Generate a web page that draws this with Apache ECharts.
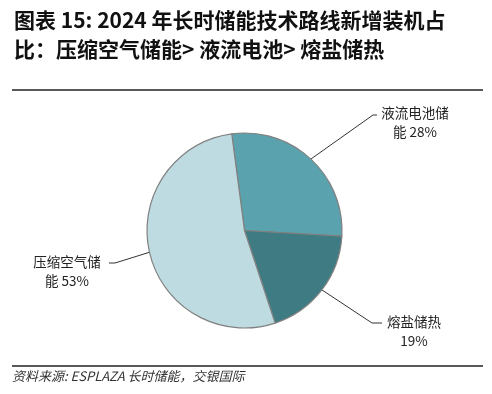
<!DOCTYPE html>
<html><head><meta charset="utf-8">
<script src="https://cdn.jsdelivr.net/npm/echarts@6/dist/echarts.min.js"></script>
<style>html,body{margin:0;padding:0;background:#fff}#c{width:492px;height:394px}</style>
</head><body><div id="c"></div>
<script>
const categories = ['液流电池储能', '熔盐储热', '压缩空气储能'];
const shares = [28, 19, 53];
const colors = ['#5AA2AE', '#3F7B83', '#BDDBE1'];
const titleText = '图表 15: 2024 年长时储能技术路线新增装机占\n比：压缩空气储能> 液流电池> 熔盐储热';
const sourceText = '资料来源: ESPLAZA 长时储能，交银国际';

const FONT = '"Noto Sans CJK SC", "Noto Sans", sans-serif';
// label anchor layout: [textCenterX, textCenterY, elbowX, elbowY, endX]
const labelSpots = [
  [415, 122, 373, 115, 377],
  [414, 331, 372, 323, 382],
  [67, 271, 115, 263, 109]
];

const chart = echarts.init(document.getElementById('c'), null, {renderer: 'canvas'});
chart.setOption({
  animation: false,
  title: {
    text: titleText,
    left: 14, top: 6, padding: 0,
    textStyle: {fontFamily: FONT, fontSize: 21, fontWeight: 'bold', color: '#111', lineHeight: 29}
  },
  graphic: [
    {type: 'line', shape: {x1: 12, y1: 90, x2: 483, y2: 90}, style: {stroke: '#222', lineWidth: 1.5}},
    {type: 'line', shape: {x1: 12, y1: 366, x2: 483, y2: 366}, style: {stroke: '#222', lineWidth: 1.5}},
    {type: 'text', left: 12, top: 370, style: {text: sourceText, font: 'italic 13px ' + FONT, fill: '#333'}}
  ],
  series: [{
    type: 'pie',
    center: [244.5, 230.5],
    radius: 97.5,
    startAngle: 97.5,
    clockwise: true,
    silent: true,
    itemStyle: {borderColor: '#808080', borderWidth: 1.2},
    data: categories.map((n, i) => ({name: n, value: shares[i], itemStyle: {color: colors[i]}})),
    label: {
      show: true,
      position: 'outside',
      fontFamily: FONT, fontSize: 13.5, color: '#222', lineHeight: 19, align: 'center',
      formatter: p => {
        const head = p.name.slice(0, 5), rest = p.name.slice(5);
        return head + '\n' + (rest ? rest + ' ' : '') + p.value + '%';
      }
    },
    labelLine: {show: true, length: 20, length2: 6, lineStyle: {color: '#333', width: 1}},
    labelLayout: params => {
      const s = labelSpots[params.dataIndex];
      const p0 = params.labelLinePoints ? params.labelLinePoints[0] : [s[2], s[3]];
      return {
        x: s[0], y: s[1], align: 'center', verticalAlign: 'middle',
        labelLinePoints: [p0, [s[2], s[3]], [s[4], s[3]]]
      };
    }
  }]
});
</script></body></html>
